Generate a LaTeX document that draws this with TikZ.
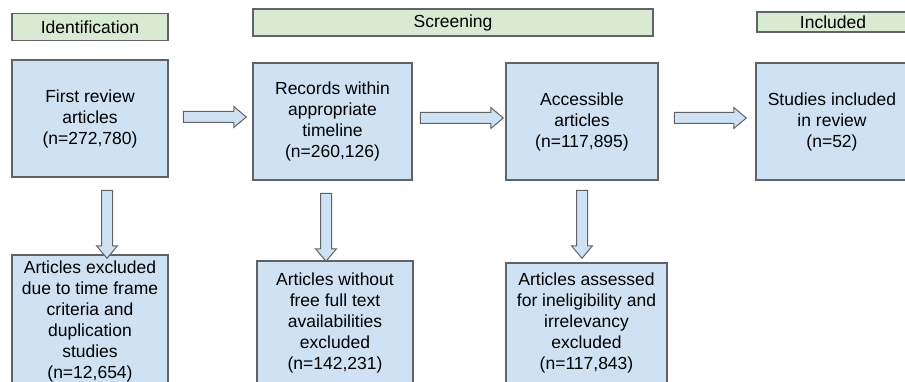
\documentclass[tikz,border=0pt]{standalone}
\usepackage{fontspec}
\setmainfont{Liberation Sans}
\usetikzlibrary{shapes.arrows}
\definecolor{boxblue}{HTML}{CFE2F3}
\definecolor{hdrgreen}{HTML}{D9EAD3}
\definecolor{edge}{HTML}{5F6368}
\tikzset{
  box/.style={draw=edge, line width=1.2pt, fill=boxblue, align=center, inner sep=0pt,
    font=\fontsize{17.5}{21}\selectfont},
  hdr/.style={draw=edge, line width=1.2pt, fill=hdrgreen, inner sep=0pt,
    font=\fontsize{17.5}{20}\selectfont},
  blockarrow/.style={single arrow, draw=edge, line width=1pt, fill=boxblue, inner sep=5pt,
    single arrow head extend=5pt, single arrow tip angle=80, single arrow head indent=0pt}
}
\begin{document}
\begin{tikzpicture}[x=1pt,y=-1pt]
\useasboundingbox (0,0) rectangle (905,382);
\clip (0,0) rectangle (905,382);
\fill[white] (0,0) rectangle (905,382);
% headers
\node[hdr, minimum width=156, minimum height=27] (h1) at (90,27) {Identification};
\node[hdr, minimum width=400, minimum height=27] (h2) at (453,22.5) {Screening};
\node[hdr, minimum width=152, minimum height=20] (h3) at (833,22) {Included};
% top row
\node[box, minimum width=156, minimum height=117] (a) at (90,118.5) {First review\\articles\\(n=272,780)};
\node[box, minimum width=159, minimum height=117] (b) at (332.5,121.5) {Records within\\appropriate\\timeline\\(n=260,126)};
\node[box, minimum width=152, minimum height=117] (c) at (582,121.5) {Accessible\\articles\\(n=117,895)};
\node[box, minimum width=152, minimum height=117] (d) at (832,121.5) {Studies included\\in review\\(n=52)};
% bottom row
\node[box, minimum width=156, minimum height=132] (e) at (90,321) {Articles excluded\\due to time frame\\criteria and\\duplication\\studies\\(n=12,654)};
\node[box, minimum width=156, minimum height=124] (f) at (335,323) {Articles without\\free full text\\availabilities\\excluded\\(n=142,231)};
\node[box, minimum width=161, minimum height=120] (g) at (586.5,323) {Articles assessed\\for ineligibility and\\irrelevancy\\excluded\\(n=117,843)};
% horizontal arrows
\node[blockarrow, minimum height=63, minimum width=20] (ab) at (211.5,117) {};
\node[blockarrow, minimum height=83, minimum width=20] (bc) at (458.5,118) {};
\node[blockarrow, minimum height=72, minimum width=20] (cd) at (707,118) {};
% vertical arrows
\node[blockarrow, shape border rotate=270, minimum height=68, minimum width=21] (ae) at (107,221) {};
\node[blockarrow, shape border rotate=270, minimum height=68, minimum width=21] (bf) at (326,224) {};
\node[blockarrow, shape border rotate=270, minimum height=68, minimum width=21] (cg) at (582,221) {};
\end{tikzpicture}
\end{document}
